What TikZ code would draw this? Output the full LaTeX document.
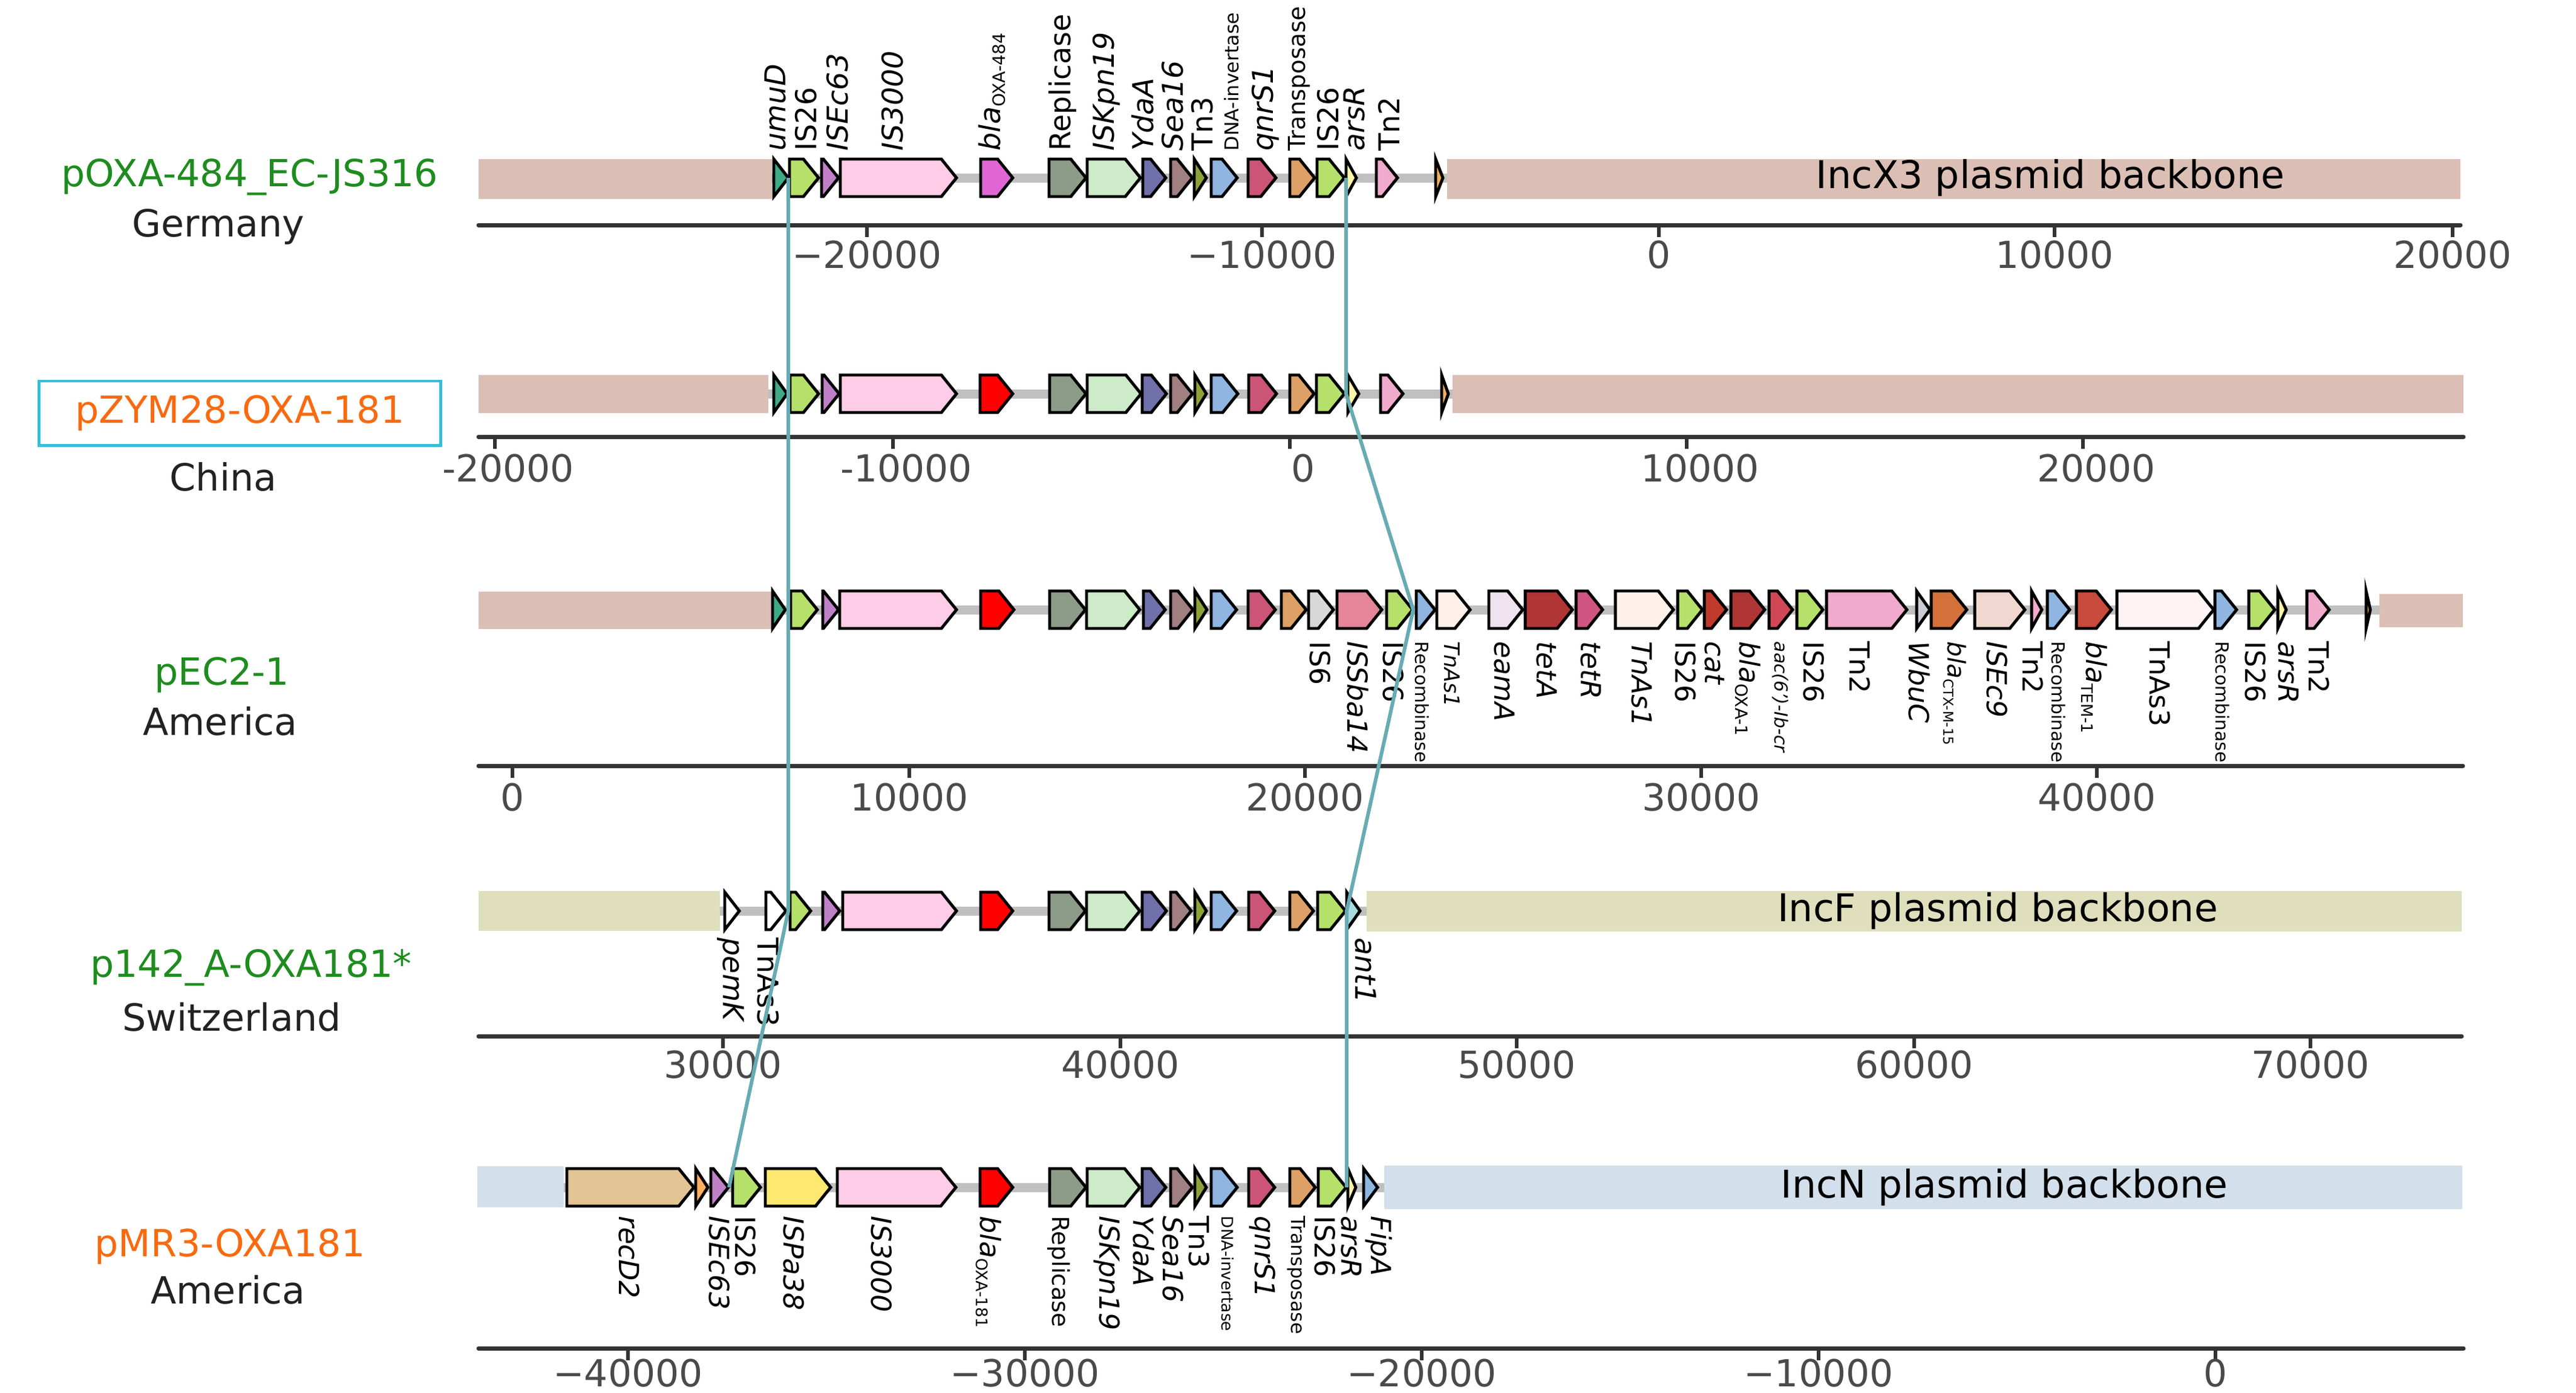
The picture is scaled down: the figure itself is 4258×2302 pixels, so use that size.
\documentclass[tikz,border=0pt]{standalone}
\usepackage{fontspec}
\setmainfont{DejaVu Sans}
\newcommand{\fsz}[1]{\fontsize{#1}{#1}\selectfont}
\newcommand{\blasub}[2]{\textit{bla}\raisebox{-0.3ex}{\fsz{#2}#1}}
\definecolor{cUmu}{HTML}{3FAA85}
\definecolor{cIS26}{HTML}{B5E06A}
\definecolor{cEc63}{HTML}{C080C8}
\definecolor{cIS3k}{HTML}{FDCCE6}
\definecolor{cMag}{HTML}{E066D4}
\definecolor{cRed}{HTML}{FF0000}
\definecolor{cRep}{HTML}{8C9C88}
\definecolor{cKpn}{HTML}{CDEBC8}
\definecolor{cYda}{HTML}{7070AA}
\definecolor{cSea}{HTML}{A08080}
\definecolor{cTn3}{HTML}{8FA23A}
\definecolor{cInv}{HTML}{8FB5E0}
\definecolor{cQnr}{HTML}{CC5577}
\definecolor{cTps}{HTML}{DDA066}
\definecolor{cArs}{HTML}{FFF5A8}
\definecolor{cTn2}{HTML}{F0AACC}
\definecolor{cOrg}{HTML}{F0B060}
\definecolor{cIS6}{HTML}{D8D8D8}
\definecolor{cSba}{HTML}{E48599}
\definecolor{cAs1}{HTML}{FFF0EA}
\definecolor{cEam}{HTML}{EFE3EF}
\definecolor{cTetA}{HTML}{B03535}
\definecolor{cTetR}{HTML}{D05580}
\definecolor{cCat}{HTML}{C03A2C}
\definecolor{cAac}{HTML}{D04855}
\definecolor{cWbu}{HTML}{C8CDD5}
\definecolor{cCtx}{HTML}{D4703A}
\definecolor{cEc9}{HTML}{F0D8D0}
\definecolor{cTem}{HTML}{C84A3A}
\definecolor{cAs3}{HTML}{FFF3F3}
\definecolor{cAnt}{HTML}{A8DDE0}
\definecolor{cRec}{HTML}{E2C495}
\definecolor{cOr2}{HTML}{FFB060}
\definecolor{cPa38}{HTML}{FFE870}
\definecolor{bbX}{HTML}{DBBFB5}
\definecolor{bbF}{HTML}{DFDFBE}
\definecolor{bbN}{HTML}{D3DFEA}
\definecolor{trk}{HTML}{C0C0C0}
\definecolor{axc}{HTML}{333333}
\definecolor{tkc}{HTML}{4A4A4A}
\definecolor{cLink}{HTML}{68ABB2}
\definecolor{cGrn}{HTML}{1E8C1E}
\definecolor{cOra}{HTML}{F86A10}
\definecolor{cBox}{HTML}{38BDD8}
\definecolor{cTxt}{HTML}{222222}
\newcommand{\gnarrow}[4]{%
  \pgfmathsetmacro{\gnb}{max(#1,#2-25)}%
  \filldraw[gene, fill=#4] (#1,#3-31) -- (\gnb,#3-31) -- (#2,#3) -- (\gnb,#3+31) -- (#1,#3+31) -- cycle;}
\begin{document}
\begin{tikzpicture}[x=0.01cm,y=-0.01cm,
  gene/.style={draw=black, line width=1.4pt, line join=miter},
  track/.style={draw=trk, line width=0.15cm},
  axis/.style={draw=axc, line width=0.07cm, line cap=round},
  tick/.style={draw=axc, line width=0.06cm},
  tl/.style={inner sep=0pt, text=tkc, font=\fsz{17.5}},
  ul/.style={inner sep=0pt, rotate=90, anchor=west, font=\fsz{13.5}},
  dl/.style={inner sep=0pt, rotate=-90, anchor=west, font=\fsz{13}},
  lname/.style={inner sep=0pt, text=cTxt, font=\fsz{17.6}},
  bbl/.style={inner sep=0pt, font=\fsz{18}},
  link/.style={draw=cLink, line width=0.06cm, line join=round}]
\fill[white] (0,0) rectangle (4258,2302);
\useasboundingbox (0,0) rectangle (4258,2302);

% ---------- backbones ----------
\fill[bbX] (791,263) rectangle (1276,329);
\fill[bbX] (2392,263) rectangle (4067,329);
\fill[bbX] (791,620) rectangle (1270,683);
\fill[bbX] (2401,620) rectangle (4072,683);
\fill[bbX] (791,978) rectangle (1276,1040);
\fill[bbX] (3933,982) rectangle (4071,1037);
\fill[bbF] (791,1473) rectangle (1190,1539);
\fill[bbF] (2259,1473) rectangle (4069,1540);
\fill[bbN] (789,1928) rectangle (932,1996);
\fill[bbN] (2288,1927) rectangle (4070,1999);

% ---------- track lines ----------
\draw[track] (1276,294) -- (2392,294);
\draw[track] (1270,651) -- (2401,651);
\draw[track] (1276,1008) -- (3933,1008);
\draw[track] (1190,1506) -- (2259,1506);
\draw[track] (932,1963) -- (2288,1963);

% ---------- genes row 1 ----------
\foreach \a/\b/\c in {1279/1303/cUmu, 1305/1353/cIS26, 1358/1386/cEc63, 1389/1581/cIS3k, 1621/1674/cMag, 1734/1795/cRep, 1797/1885/cKpn, 1889/1927/cYda, 1935/1971/cSea, 1974/1994/cTn3, 2002/2045/cInv, 2063/2109/cQnr, 2132/2173/cTps, 2177/2222/cIS26, 2225/2242/cArs, 2275/2310/cTn2, 2373/2385/cOrg}
  {\gnarrow{\a}{\b}{294}{\c}}
% ---------- genes row 2 ----------
\foreach \a/\b/\c in {1279/1301/cUmu, 1306/1353/cIS26, 1359/1387/cEc63, 1389/1581/cIS3k, 1620/1674/cRed, 1735/1795/cRep, 1797/1886/cKpn, 1888/1928/cYda, 1935/1971/cSea, 1975/1994/cTn3, 2002/2046/cInv, 2064/2110/cQnr, 2132/2172/cTps, 2176/2222/cIS26, 2228/2246/cArs, 2282/2319/cTn2, 2383/2394/cOrg}
  {\gnarrow{\a}{\b}{651}{\c}}
% ---------- genes row 3 ----------
\foreach \a/\b/\c in {1277/1298/cUmu, 1307/1351/cIS26, 1360/1386/cEc63, 1388/1581/cIS3k, 1621/1676/cRed, 1735/1794/cRep, 1796/1884/cKpn, 1890/1926/cYda, 1935/1972/cSea, 1975/1995/cTn3, 2002/2044/cInv, 2063/2108/cQnr, 2118/2159/cTps, 2163/2204/cIS6, 2210/2284/cSba, 2292/2335/cIS26, 2341/2372/cInv, 2375/2430/cAs1, 2461/2517/cEam, 2521/2599/cTetA, 2605/2649/cTetR, 2670/2766/cAs1, 2773/2814/cIS26, 2817/2854/cCat, 2861/2917/cTetA, 2924/2963/cAac, 2970/3013/cIS26, 3019/3152/cTn2, 3168/3190/cWbu, 3192/3251/cCtx, 3264/3347/cEc9, 3358/3375/cTn2, 3384/3421/cInv, 3432/3490/cTem, 3499/3659/cAs3, 3661/3697/cInv, 3717/3760/cIS26, 3765/3779/cArs, 3813/3850/cTn2, 3911/3918/cOrg}
  {\gnarrow{\a}{\b}{1008}{\c}}
% ---------- genes row 4 ----------
\foreach \a/\b/\c in {1198/1222/white, 1266/1299/white, 1306/1340/cIS26, 1360/1388/cEc63, 1393/1581/cIS3k, 1621/1674/cRed, 1734/1794/cRep, 1796/1884/cKpn, 1888/1928/cYda, 1935/1969/cSea, 1975/1994/cTn3, 2002/2044/cInv, 2064/2107/cQnr, 2132/2171/cTps, 2178/2224/cIS26, 2226/2248/cAnt}
  {\gnarrow{\a}{\b}{1506}{\c}}
% ---------- genes row 5 ----------
\foreach \a/\b/\c in {937/1147/cRec, 1150/1170/cOr2, 1175/1204/cEc63, 1211/1257/cIS26, 1265/1373/cPa38, 1384/1580/cIS3k, 1620/1674/cRed, 1735/1795/cRep, 1797/1884/cKpn, 1888/1927/cYda, 1935/1971/cSea, 1975/1994/cTn3, 2002/2045/cInv, 2064/2107/cQnr, 2132/2174/cTps, 2179/2225/cIS26, 2228/2241/cArs, 2254/2277/cInv}
  {\gnarrow{\a}{\b}{1963}{\c}}

% ---------- backbone labels ----------
\node[bbl] (bx1) at (3389,294) {IncX3 plasmid backbone};
\node[bbl] (bf4) at (3302,1506) {IncF plasmid backbone};
\node[bbl] (bn5) at (3313,1963) {IncN plasmid backbone};

% ---------- gene labels row 1 ----------
\node[ul] (a1) at (1282,250) {\textit{umuD}};
\node[ul] (a2) at (1332,250) {IS26};
\node[ul] (a3) at (1384,250) {\textit{ISEc63}};
\node[ul] (a4) at (1475,250) {\textit{IS3000}};
\node[ul] (a5) at (1640,250) {\blasub{OXA-484}{8}};
\node[ul] (a6) at (1756,250) {Replicase};
\node[ul] (a7) at (1829,250) {\textit{ISKpn19}};
\node[ul] (a8) at (1889,250) {\textit{YdaA}};
\node[ul] (a9) at (1938,250) {\textit{Sea16}};
\node[ul] (a10) at (1987,250) {Tn3};
\node[ul,font=\fsz{9}] (a11) at (2036,250) {DNA-invertase};
\node[ul] (a12) at (2092,250) {\textit{qnrS1}};
\node[ul,font=\fsz{11}] (a13) at (2147,250) {Transposase};
\node[ul] (a14) at (2195,250) {IS26};
\node[ul] (a15) at (2238,250) {\textit{arsR}};
\node[ul] (a16) at (2296,250) {Tn2};

% ---------- gene labels row 3 ----------
\node[dl] (b1) at (2182,1060) {IS6};
\node[dl] (b2) at (2245,1060) {\textit{ISSba14}};
\node[dl] (b3) at (2303,1060) {IS26};
\node[dl,font=\fsz{8.5}] (b4) at (2351,1060) {Recombinase};
\node[dl,font=\fsz{10}] (b5) at (2400,1060) {\textit{TnAs1}};
\node[dl] (b6) at (2487,1060) {\textit{eamA}};
\node[dl] (b7) at (2557,1060) {\textit{tetA}};
\node[dl] (b8) at (2630,1060) {\textit{tetR}};
\node[dl] (b9) at (2714,1060) {\textit{TnAs1}};
\node[dl] (b10) at (2786,1060) {IS26};
\node[dl] (b11) at (2834,1060) {\textit{cat}};
\node[dl] (b12) at (2889,1060) {\blasub{OXA-1}{8}};
\node[dl,font=\fsz{8.5}] (b13) at (2943,1060) {\textit{aac(6')-Ib-cr}};
\node[dl] (b14) at (2998,1060) {IS26};
\node[dl] (b15) at (3074,1060) {Tn2};
\node[dl] (b16) at (3172,1060) {\textit{WbuC}};
\node[dl,font=\fsz{11.5}] (b17) at (3231,1060) {\blasub{CTX-M-15}{6.5}};
\node[dl] (b18) at (3301,1060) {\textit{ISEc9}};
\node[dl] (b19) at (3360,1060) {Tn2};
\node[dl,font=\fsz{8.5}] (b20) at (3403,1060) {Recombinase};
\node[dl] (b21) at (3462,1060) {\blasub{TEM-1}{7.5}};
\node[dl] (b22) at (3570,1060) {TnAs3};
\node[dl,font=\fsz{8.5}] (b23) at (3674,1060) {Recombinase};
\node[dl] (b24) at (3728,1060) {IS26};
\node[dl] (b25) at (3783,1060) {\textit{arsR}};
\node[dl] (b26) at (3833,1060) {Tn2};

% ---------- gene labels row 4 ----------
\node[dl,font=\fsz{13.5}] (c1) at (1208,1550) {\textit{pemK}};
\node[dl,font=\fsz{13.5}] (c2) at (1270,1550) {TnAs3};
\node[dl,font=\fsz{13.5}] (c3) at (2257,1550) {\textit{ant1}};

% ---------- gene labels row 5 ----------
\node[dl] (d1) at (1040,2010) {\textit{recD2}};
\node[dl] (d2) at (1189,2010) {\textit{ISEc63}};
\node[dl] (d3) at (1232,2010) {IS26};
\node[dl] (d4) at (1312,2010) {\textit{ISPa38}};
\node[dl] (d5) at (1457,2010) {\textit{IS3000}};
\node[dl] (d6) at (1634,2010) {\blasub{OXA-181}{7.5}};
\node[dl,font=\fsz{11}] (d7) at (1750,2010) {Replicase};
\node[dl] (d8) at (1830,2010) {\textit{ISKpn19}};
\node[dl] (d9) at (1891,2010) {\textit{YdaA}};
\node[dl] (d10) at (1939,2010) {\textit{Sea16}};
\node[dl] (d11) at (1982,2010) {Tn3};
\node[dl,font=\fsz{7.5}] (d12) at (2029,2010) {DNA-invertase};
\node[dl] (d13) at (2087,2010) {\textit{qnrS1}};
\node[dl,font=\fsz{9}] (d14) at (2143,2010) {Transposase};
\node[dl] (d15) at (2190,2010) {IS26};
\node[dl] (d16) at (2234,2010) {\textit{arsR}};
\node[dl] (d17) at (2279,2010) {\textit{FipA}};

% ---------- axes ----------
\draw[axis] (791,372) -- (4067,372);
\foreach \x/\t [count=\i] in {1433/{−20000},2086/{−10000},2742/0,3396/10000,4054/20000}
  {\draw[tick] (\x,372) -- (\x,392); \node[tl] (t1-\i) at (\x,421) {\t};}
\draw[axis] (791,722) -- (4072,722);
\foreach \x/\t [count=\i] in {818/{-20000},1476/{-10000},2132/0,2788/10000,3443/20000}
  {\draw[tick] (\x,722) -- (\x,742); \node[tl] (t2-\i) at (\x+22,774) {\t};}
\draw[axis] (791,1266) -- (4071,1266);
\foreach \x/\t [count=\i] in {847/0,1503/10000,2157/20000,2812/30000,3466/40000}
  {\draw[tick] (\x,1266) -- (\x,1286); \node[tl] (t3-\i) at (\x,1318) {\t};}
\draw[axis] (791,1713) -- (4069,1713);
\foreach \x/\t [count=\i] in {1195/30000,1852/40000,2507/50000,3164/60000,3819/70000}
  {\draw[tick] (\x,1713) -- (\x,1733); \node[tl] (t4-\i) at (\x,1760) {\t};}
\draw[axis] (791,2229) -- (4072,2229);
\foreach \x/\t [count=\i] in {1038/{−40000},1694/{−30000},2350/{−20000},3006/{−10000},3662/0}
  {\draw[tick] (\x,2229) -- (\x,2249); \node[tl] (t5-\i) at (\x,2270) {\t};}

% ---------- plasmid names ----------
\node[lname,text=cGrn] (p1) at (413,293) {pOXA-484\_EC-JS316};
\node[lname] (g1) at (361,375) {Germany};
\node[lname,text=cOra,draw=cBox,line width=1.4pt,minimum width=6.63cm,minimum height=1.06cm] (p2) at (396.5,683) {pZYM28-OXA-181};
\node[lname] (g2) at (369,788) {China};
\node[lname,text=cGrn] (p3) at (367,1116) {pEC2-1};
\node[lname] (g3) at (364,1192) {America};
\node[lname,text=cGrn] (p4) at (415,1600) {p142\_A-OXA181*};
\node[lname] (g4) at (383,1681) {Switzerland};
\node[lname,text=cOra] (p5) at (380,2061) {pMR3-OXA181};
\node[lname] (g5) at (377,2132) {America};

% ---------- homology links ----------
\coordinate (L1) at (1303,294);
\coordinate (L4) at (1303,1506);
\coordinate (L5) at (1205,1963);
\coordinate (R1) at (2225,294);
\coordinate (R2) at (2225,651);
\coordinate (R3) at (2336,1008);
\coordinate (R4) at (2226,1506);
\coordinate (R5) at (2226,1963);
\draw[link] (L1) -- (L4) -- (L5);
\draw[link] (R1) -- (R2) -- (R3) -- (R4) -- (R5);
\end{tikzpicture}
\end{document}
